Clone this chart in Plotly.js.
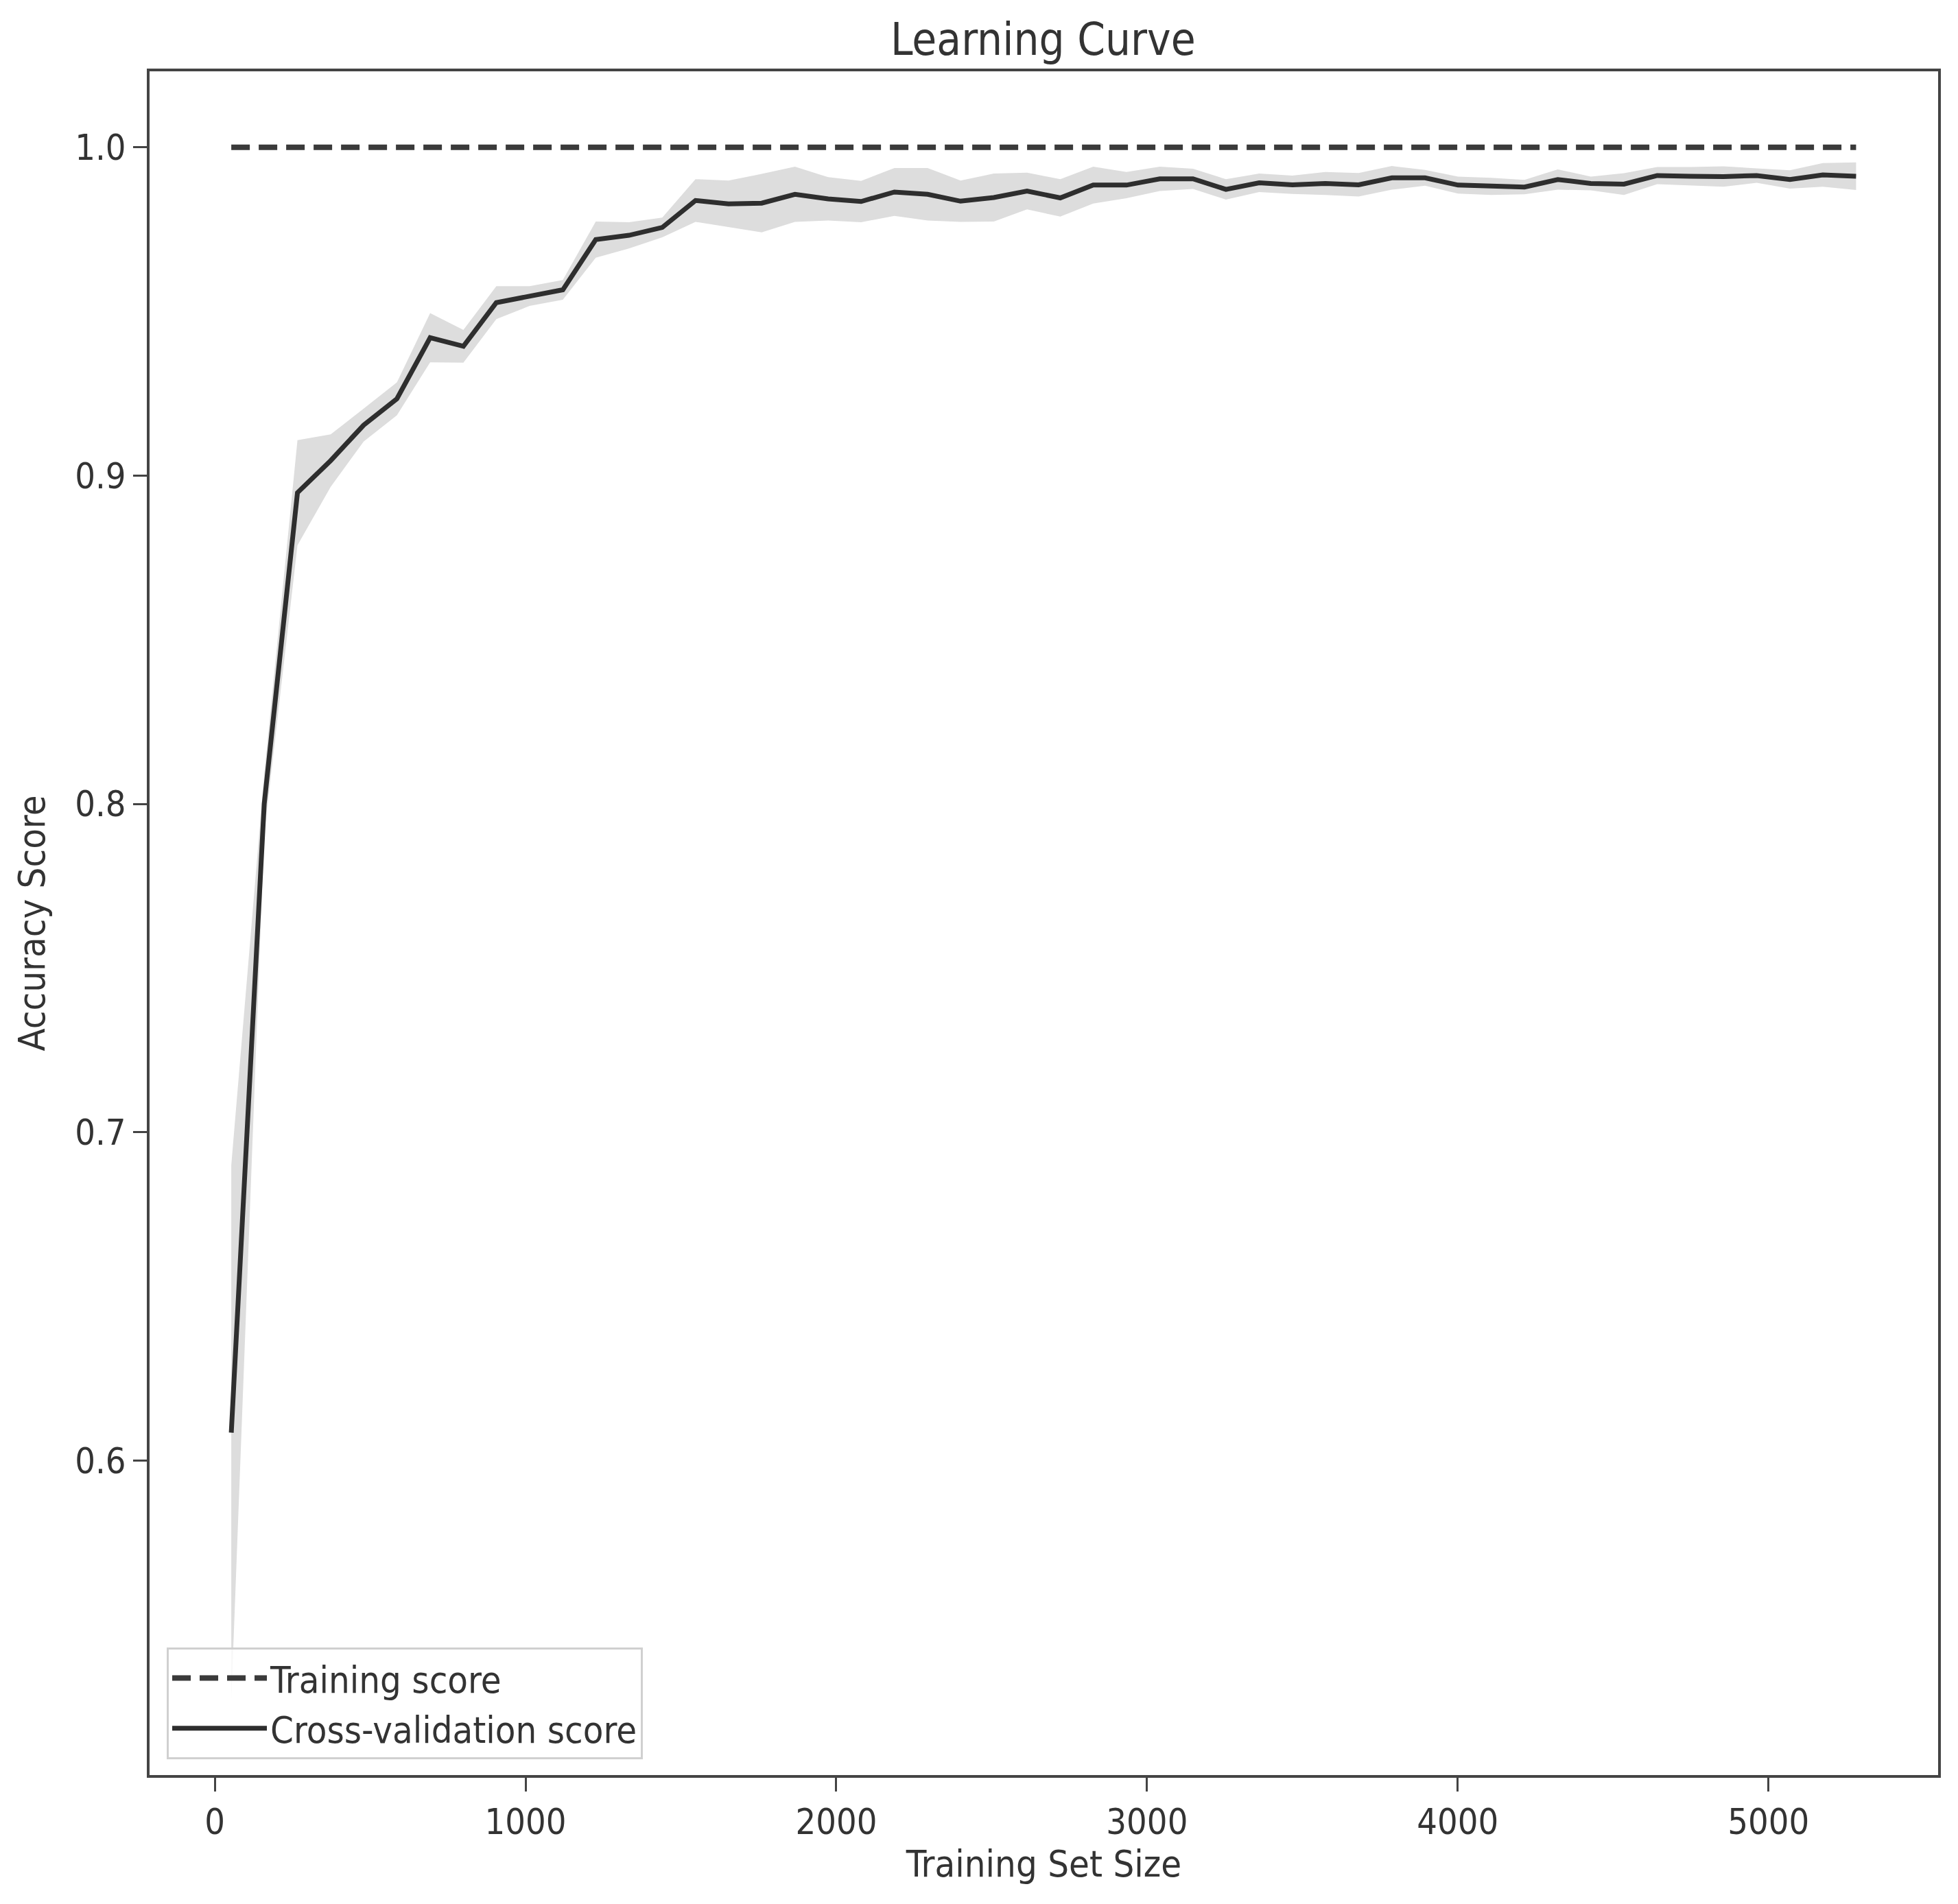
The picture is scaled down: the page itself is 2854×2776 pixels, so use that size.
<!DOCTYPE html>
<html>
<head>
<meta charset="utf-8">
<script src="https://cdn.plot.ly/plotly-3.0.1.min.js"></script>
<style>
  html, body { margin: 0; padding: 0; background: #ffffff; }
  #chart { width: 2854px; height: 2776px; }
</style>
</head>
<body>
<div id="chart"></div>
<script>
// Training set sizes (x)
const trainSizes = [53, 159, 266, 373, 479, 586, 693, 800, 906, 1013,
  1120, 1226, 1333, 1440, 1547, 1653, 1760, 1867, 1974, 2080,
  2187, 2294, 2400, 2507, 2614, 2721, 2827, 2934, 3041, 3148,
  3254, 3361, 3468, 3574, 3681, 3788, 3895, 4001, 4108, 4215,
  4322, 4428, 4535, 4642, 4749, 4855, 4962, 5069, 5175, 5282];

// Training score (mean) - flat at 1.0
const trainMean = [1, 1, 1, 1, 1, 1, 1, 1, 1, 1,
  1, 1, 1, 1, 1, 1, 1, 1, 1, 1,
  1, 1, 1, 1, 1, 1, 1, 1, 1, 1,
  1, 1, 1, 1, 1, 1, 1, 1, 1, 1,
  1, 1, 1, 1, 1, 1, 1, 1, 1, 1];

// Cross-validation score (mean)
const cvMean = [0.6085, 0.800, 0.8948, 0.9046, 0.9154, 0.9234, 0.9420, 0.9394, 0.9527, 0.9547,
  0.9566, 0.9719, 0.9732, 0.9756, 0.9838, 0.9828, 0.9830, 0.9857, 0.9843, 0.9835,
  0.9864, 0.9857, 0.9836, 0.9847, 0.9867, 0.9846, 0.9885, 0.9885, 0.9904, 0.9904,
  0.9872, 0.9892, 0.9886, 0.9890, 0.9886, 0.9907, 0.9907, 0.9885, 0.9881, 0.9879,
  0.9902, 0.9890, 0.9888, 0.9914, 0.9912, 0.9911, 0.9914, 0.9902, 0.9916, 0.9912];

// Cross-validation score (standard deviation)
const cvStd = [0.0815, 0.009, 0.016, 0.008, 0.005, 0.005, 0.0075, 0.005, 0.005, 0.003,
  0.003, 0.0055, 0.004, 0.003, 0.0065, 0.0071, 0.0089, 0.0084, 0.0066, 0.0063,
  0.0073, 0.0080, 0.0063, 0.0073, 0.0056, 0.0057, 0.0056, 0.0040, 0.0037, 0.0031,
  0.0031, 0.0028, 0.0028, 0.0035, 0.0036, 0.0036, 0.0024, 0.0026, 0.0026, 0.0022,
  0.0031, 0.0021, 0.0033, 0.0026, 0.0028, 0.0031, 0.0022, 0.0028, 0.0036, 0.0042];

const seriesNames = ["Training score", "Cross-validation score"];
const chartTitle = "Learning Curve";
const xTitle = "Training Set Size";
const yTitle = "Accuracy Score";

const cvUpper = cvMean.map((m, i) => m + cvStd[i]);
const cvLower = cvMean.map((m, i) => m - cvStd[i]);

const FONT = "DejaVu Sans Condensed, DejaVu Sans, sans-serif";
const INK = "#333333";

const traces = [
  { x: trainSizes, y: cvLower, type: "scatter", mode: "lines",
    line: { width: 0, color: "rgba(0,0,0,0)" }, showlegend: false, hoverinfo: "skip" },
  { x: trainSizes, y: cvUpper, type: "scatter", mode: "lines", fill: "tonexty",
    fillcolor: "#dddddd", line: { width: 0, color: "rgba(0,0,0,0)" }, showlegend: false, hoverinfo: "skip" },
  { x: trainSizes, y: trainMean, type: "scatter", mode: "lines", name: seriesNames[0],
    line: { color: "#3a3a3a", width: 8, dash: "27px,13px" } },
  { x: trainSizes, y: cvMean, type: "scatter", mode: "lines", name: seriesNames[1],
    line: { color: "#2e2e2e", width: 7 } }
];

const axisCommon = {
  showline: true, mirror: true, linecolor: "#444444", linewidth: 4,
  ticks: "outside", ticklen: 20, tickwidth: 3, tickcolor: "#444444",
  showgrid: false, zeroline: false, automargin: false,
  tickfont: { family: FONT, size: 52, color: INK }
};

const layout = {
  width: 2854, height: 2776,
  paper_bgcolor: "#ffffff", plot_bgcolor: "#ffffff",
  margin: { l: 218, r: 29, t: 104, b: 188, pad: 0 },
  font: { family: FONT, color: INK },
  title: { text: chartTitle, font: { family: FONT, size: 65, color: INK },
           x: 0.5327, xanchor: "center", y: 1 - 57 / 2776, yanchor: "middle", yref: "container" },
  xaxis: Object.assign({}, axisCommon, {
    range: [-210, 5546], tickmode: "linear", tick0: 0, dtick: 1000,
    title: { text: xTitle, font: { family: FONT, size: 54, color: INK }, standoff: 13 }
  }),
  yaxis: Object.assign({}, axisCommon, {
    range: [0.5042, 1.02315], tickmode: "linear", tick0: 0.6, dtick: 0.1, tickformat: ".1f",
    title: { text: yTitle, font: { family: FONT, size: 54, color: INK }, standoff: 27 }
  }),
  legend: {
    x: 0.0096, y: 0.0093, xanchor: "left", yanchor: "bottom",
    bgcolor: "rgba(255,255,255,0.8)", bordercolor: "#d0d0d0", borderwidth: 3,
    font: { family: FONT, size: 54, color: INK },
    itemwidth: 138, tracegroupgap: 0, traceorder: "normal"
  },
  showlegend: true
};

Plotly.newPlot("chart", traces, layout, { displayModeBar: false, staticPlot: true });
</script>
</body>
</html>
